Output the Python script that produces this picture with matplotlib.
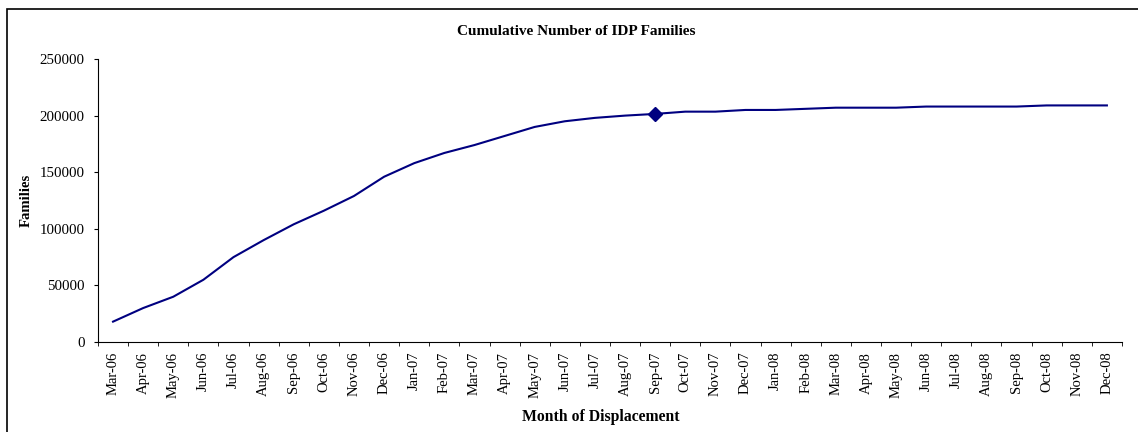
import numpy as np
import matplotlib.pyplot as plt
from matplotlib.patches import Rectangle

plt.rcParams['font.family'] = ['Liberation Serif', 'DejaVu Serif']

months = ["Mar-06", "Apr-06", "May-06", "Jun-06", "Jul-06", "Aug-06", "Sep-06", "Oct-06",
          "Nov-06", "Dec-06", "Jan-07", "Feb-07", "Mar-07", "Apr-07", "May-07", "Jun-07",
          "Jul-07", "Aug-07", "Sep-07", "Oct-07", "Nov-07", "Dec-07", "Jan-08", "Feb-08",
          "Mar-08", "Apr-08", "May-08", "Jun-08", "Jul-08", "Aug-08", "Sep-08", "Oct-08",
          "Nov-08", "Dec-08"]
families = [18000, 30000, 40000, 55000, 75000, 90000, 104000, 116000,
            129000, 146000, 158000, 167000, 174000, 182000, 190000, 195000,
            198000, 200000, 201500, 203500, 203500, 205000, 205000, 206000,
            207000, 207000, 207000, 208000, 208000, 208000, 208000, 209000,
            209000, 209000]
highlight = "Sep-07"

fig = plt.figure(figsize=(11.38, 4.32), dpi=100)
ax = fig.add_axes([0.0861, 0.2083, 0.8998, 0.6551])

x = np.arange(len(months))
ax.plot(x, families, color='#000080', lw=1.5)
i = months.index(highlight)
ax.plot(x[i], families[i], marker='D', color='#000080', markersize=7)

ax.set_xlim(-0.5, len(months) - 0.5)
ax.set_ylim(0, 250000)
ax.set_yticks(np.arange(0, 250001, 50000))
ax.set_xticks(x)
ax.set_xticklabels(months, rotation=90, fontsize=10.5)
ax.set_xticks(np.arange(-0.5, len(months), 1), minor=True)
ax.tick_params(axis='x', which='major', length=0, pad=7)
ax.tick_params(axis='x', which='minor', length=3, direction='out')
ax.tick_params(axis='y', length=3, direction='out', labelsize=10.7, pad=6.5)

for s in ['top', 'right']:
    ax.spines[s].set_visible(False)

fig.text(0.506, 0.926, "Cumulative Number of IDP Families", fontsize=11, fontweight='bold',
         ha='center', va='center')
ax.set_ylabel("Families", fontsize=10.6, fontweight='bold', labelpad=5)
ax.set_xlabel("Month of Displacement", fontsize=11.3, fontweight='bold', labelpad=7)
ax.xaxis.set_label_coords(0.491, -0.235)

fig.patches.append(Rectangle((7 / 1138, -0.1), 1.2, 1 - 9 / 432 + 0.1, transform=fig.transFigure,
                             fill=False, edgecolor='black', lw=1.2))

fig.savefig("out.png", dpi=100)
